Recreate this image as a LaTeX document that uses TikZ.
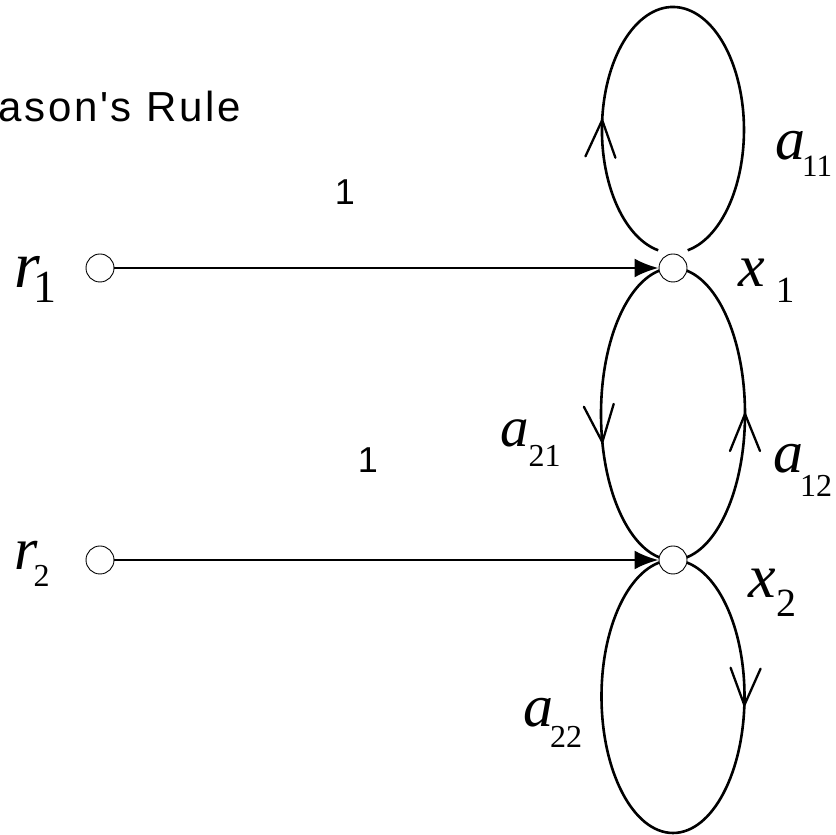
\documentclass[tikz,border=0pt]{standalone}
\usepackage{fontspec}
\setmainfont{Liberation Serif}
\newfontfamily\labsans{Liberation Sans}
\newfontfamily\titlesans[LetterSpace=6.5]{Liberation Sans}
\usetikzlibrary{arrows.meta,decorations.markings,backgrounds}
\newcommand\mylab[6]{{\fontsize{#2}{#2}\selectfont\itshape #1}\hspace{#5}\raisebox{#6}{\fontsize{#4}{#4}\selectfont #3}}
\tikzset{
  sig/.style={circle,draw,line width=0.9pt,fill=white,minimum size=28pt,inner sep=0pt},
  lab/.style={inner sep=0pt,anchor=base west},
  gain/.style={inner sep=0pt,font=\labsans\fontsize{36}{36}\selectfont},
  feed/.style={line width=2.7pt,-{Latex[length=24pt,width=19pt]}},
  curve/.style={line width=2.6pt},
  vmark/.style={postaction={decorate},decoration={markings,
    mark=at position #1 with {\draw[line width=2.3pt,line cap=round] (-37pt,15pt) -- (0pt,0pt) -- (-37pt,-15pt);}}}
}
\begin{document}
\begin{tikzpicture}[x=1pt,y=1pt]
\useasboundingbox (0,0) rectangle (836,835);
% signal nodes
\node[sig] (r1) at (100,567) {};
\node[sig] (r2) at (100,275) {};
\node[sig] (x1) at (673,567) {};
\node[sig] (x2) at (673,275) {};
% title
\node[inner sep=0pt,anchor=base west,font=\titlesans\fontsize{42}{42}\selectfont] (title) at (-2,713) {ason's Rule};
% gains on feed branches
\node[gain] (g1) at (345,643) {1};
\node[gain] (g2) at (368,375) {1};
% labels
\node[lab] (lr1) at (14,547) {\mylab{r}{66}{1}{46}{-6pt}{-15pt}};
\node[lab] (lr2) at (14,265) {\mylab{r}{60}{2}{32}{-4pt}{-17pt}};
\node[lab] (lx1) at (738,548) {\mylab{x}{60}{1}{37}{11pt}{-16pt}};
\node[lab] (lx2) at (748,237) {\mylab{x}{62}{2}{40}{1pt}{-19pt}};
\node[lab] (la11) at (775,675) {\mylab{a}{60}{11}{31}{-3pt}{-17pt}};
\node[lab] (la21) at (500,388) {\mylab{a}{57}{21}{32}{0pt}{-20pt}};
\node[lab] (la12) at (773,362) {\mylab{a}{60}{12}{32}{-3pt}{-24pt}};
\node[lab] (la22) at (523,108) {\mylab{a}{60}{22}{32}{-3pt}{-21pt}};
% connectors
\begin{scope}[on background layer]
\draw[feed] (r1) -- (x1);
\draw[feed] (r2) -- (x2);
% self loop a11
\draw[curve,vmark=0.254] ([shift={(-14.8pt,17.7pt)}]x1.center)
  arc[start angle=258,end angle=-78,x radius=71pt,y radius=123pt];
% a21 : x1 -> x2 (left)
\draw[curve,vmark=0.58] (x1.center)
  arc[start angle=90,end angle=270,x radius=72pt,y radius=146pt];
% a12 : x2 -> x1 (right)
\draw[curve,vmark=0.5] (x2.center)
  arc[start angle=-90,end angle=90,x radius=72pt,y radius=146pt];
% self loop a22
\draw[curve,vmark=0.263] (x2.center)
  arc[start angle=90,end angle=-270,x radius=71.5pt,y radius=136.5pt];
\end{scope}
\end{tikzpicture}
\end{document}
